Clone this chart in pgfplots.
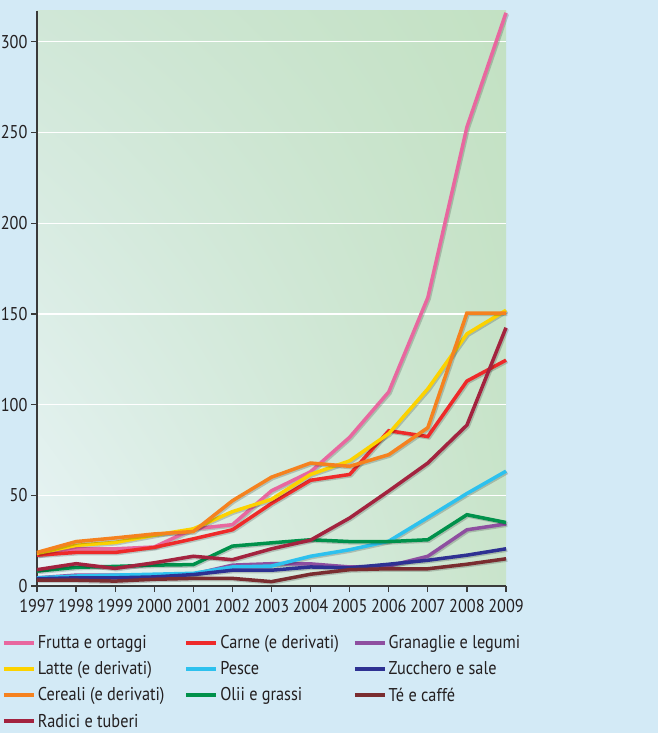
\documentclass[border=0pt]{standalone}
\usepackage{pgfplots}
\pgfplotsset{compat=1.18}
\usepackage{pgfplotstable}
\usetikzlibrary{shadings}
\usepackage{fontspec}
\setmainfont{PT Sans}[FakeStretch=0.88]
\definecolor{bgblue}{HTML}{D3EAF6}
\definecolor{cfr}{HTML}{E8679F}
\definecolor{cca}{HTML}{EE2A2A}
\definecolor{cgr}{HTML}{8E4FA0}
\definecolor{cla}{HTML}{FCD200}
\definecolor{cpe}{HTML}{2DC1EE}
\definecolor{czu}{HTML}{2E3192}
\definecolor{cce}{HTML}{F5821F}
\definecolor{col}{HTML}{00914B}
\definecolor{cte}{HTML}{7A2D30}
\definecolor{cra}{HTML}{A3233F}
\definecolor{txt}{HTML}{231F20}
\definecolor{axc}{HTML}{3A3A3A}
\definecolor{gll}{HTML}{E8F4F6}
\definecolor{gul}{HTML}{D0E7D7}
\definecolor{glr}{HTML}{C9E4CB}
\definecolor{gur}{HTML}{C3E1C3}

\pgfplotstableread{
year fr ca gr la pe zu ce ol te ra
1997 17 17 4.5 18 4.5 4 18.5 8.2 3.2 9
1998 20.5 18.5 6 22.4 5.5 4.5 24.5 10.3 3.2 12.3
1999 20.5 18.5 6 24 6 4.5 26.5 10.8 2.7 9.7
2000 21.5 21.3 6 28 6.5 5 28.7 11.5 3.7 12.8
2001 31.5 26 6.5 31.5 7 6.3 30 11.8 4.2 16.4
2002 33.8 31 11.5 41 10.5 8.7 47 22 4.2 14.5
2003 52.5 45.5 12.3 47.8 11 8.7 60 23.8 2.4 20.5
2004 63 58.3 12.2 61.5 16.4 10.5 67.8 25.5 6.5 25.3
2005 82 61.5 10.5 69 20 10 66 24.5 9 37.5
2006 107 85.6 11 84 24.7 12 72.4 24.5 9.5 52.4
2007 159 82.4 16.4 108.7 37.8 14.2 87.3 25.5 9.5 67.8
2008 253 113 31 139 51 17 150.5 39.3 12 88.7
2009 316 124.5 34.2 152 63.3 20.5 150.5 35 15 142.4
}\data

\newcommand\series[3]{%
  \addplot[forget plot, draw=black, opacity=0.18, line width=3.5pt,
    transform canvas={xshift=1.3pt,yshift=-1.3pt}] table[x=year,y=#2]{\data};
  \addplot[draw=#1, line width=3.5pt] table[x=year,y=#2]{\data};
  \addlegendentry{#3}}

\begin{document}
\begin{tikzpicture}
\fill[bgblue] (-37pt,-147pt) rectangle (621pt,586pt);
\useasboundingbox (-37pt,-147pt) rectangle (621pt,586pt);
\begin{axis}[
  at={(0pt,0pt)}, anchor=origin,
  scale only axis, width=469pt, height=575pt,
  xmin=1997, xmax=2009, ymin=0, ymax=317,
  axis lines*=left,
  axis line style={axc, line width=1.2pt},
  axis background/.style={shade, lower left=gll, upper left=gul,
     lower right=glr, upper right=gur},
  xtick={1997,1998,...,2009},
  ytick={0,50,...,300},
  ymajorgrids, grid style={white, line width=1.3pt},
  tick align=outside, major tick length=6pt,
  tick style={axc, line width=1.2pt},
  x tick label style={/pgf/number format/1000 sep={}, yshift=-4pt},
  /pgf/number format/assume math mode=true,
  tick label style={font=\fontsize{18.5}{21}\selectfont, text=txt},
  clip=false,
  legend columns=3,
  legend cell align=left,
  legend image code/.code={\draw[#1, line width=3.8pt] (0pt,0pt) -- (30pt,0pt);},
  legend style={draw=none, fill=none, inner sep=0pt,
    at={(axis description cs:-0.075,-0.082)}, anchor=north west,
    font=\fontsize{18.5}{21}\selectfont, text=txt, row sep=7.5pt,
    nodes={inner xsep=2pt},
    /tikz/column 2/.style={column sep=18pt},
    /tikz/column 4/.style={column sep=12pt}},
]
\series{cfr}{fr}{Frutta e ortaggi}
\series{cca}{ca}{Carne (e derivati)}
\series{cgr}{gr}{Granaglie e legumi}
\series{cla}{la}{Latte (e derivati)}
\series{cpe}{pe}{Pesce}
\series{czu}{zu}{Zucchero e sale}
\series{cce}{ce}{Cereali (e derivati)}
\series{col}{ol}{Olii e grassi}
\series{cte}{te}{Té e caffé}
\series{cra}{ra}{Radici e tuberi}
\end{axis}
\end{tikzpicture}
\end{document}
